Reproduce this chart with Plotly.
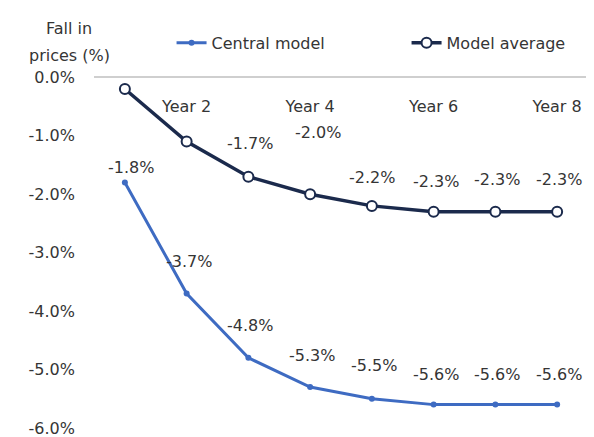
import plotly.graph_objects as go

years = ["Year 1", "Year 2", "Year 3", "Year 4", "Year 5", "Year 6", "Year 7", "Year 8"]
central_model = [-1.8, -3.7, -4.8, -5.3, -5.5, -5.6, -5.6, -5.6]
model_average = [-0.2, -1.1, -1.7, -2.0, -2.2, -2.3, -2.3, -2.3]
central_labels = ["-1.8%", "-3.7%", "-4.8%", "-5.3%", "-5.5%", "-5.6%", "-5.6%", "-5.6%"]
average_labels = ["", "", "-1.7%", "-2.0%", "-2.2%", "-2.3%", "-2.3%", "-2.3%"]
y_ticks = [0, -1, -2, -3, -4, -5, -6]
y_tick_text = ["0.0%", "-1.0%", "-2.0%", "-3.0%", "-4.0%", "-5.0%", "-6.0%"]
x_tick_years = ["Year 2", "Year 4", "Year 6", "Year 8"]

BLUE = "#3e6bc2"
NAVY = "#1b2a4c"
TXT = "#353535"
FONT = "DejaVu Sans"
FS = 16

fig = go.Figure()
fig.add_trace(go.Scatter(
    x=years, y=central_model, name="Central model", mode="lines+markers",
    line=dict(color=BLUE, width=3), marker=dict(size=6, color=BLUE),
))
fig.add_trace(go.Scatter(
    x=years, y=model_average, name="Model average", mode="lines+markers",
    line=dict(color=NAVY, width=3.5),
    marker=dict(size=10, color="white", line=dict(color=NAVY, width=2)),
))

# data labels (offsets are styling)
c_shift = [(6, 15), (2, 32), (2, 32), (2, 32), (2, 33), (2, 30), (2, 30), (2, 30)]
for i, (yr, v, t) in enumerate(zip(years, central_model, central_labels)):
    dx, dy = c_shift[i]
    fig.add_annotation(x=yr, y=v, text=t, showarrow=False, xshift=dx, yshift=dy,
                       font=dict(family=FONT, size=FS, color=TXT))
a_shift = [(0, 0), (0, 0), (2, 33), (8, 62), (0, 28), (2, 30), (2, 32), (2, 32)]
for i, (yr, v, t) in enumerate(zip(years, model_average, average_labels)):
    if not t:
        continue
    dx, dy = a_shift[i]
    fig.add_annotation(x=yr, y=v, text=t, showarrow=False, xshift=dx, yshift=dy,
                       font=dict(family=FONT, size=FS, color=TXT))

# axis title, two lines
for line, dy in (("Fall in", 49), ("prices (%)", 22)):
    fig.add_annotation(xref="paper", yref="paper", x=-0.05, y=1.0, yshift=dy,
                       xanchor="center", yanchor="middle", showarrow=False,
                       text=line, font=dict(family=FONT, size=FS, color=TXT))

fig.update_layout(
    width=594, height=437,
    margin=dict(l=86, r=14, t=69, b=17, autoexpand=False),
    paper_bgcolor="white", plot_bgcolor="white",
    font=dict(family=FONT, size=FS, color=TXT),
    showlegend=True,
    legend=dict(orientation="h", x=0.157, y=1.097, yanchor="middle", yref="paper",
                xanchor="left", font=dict(family=FONT, size=FS, color=TXT),
                bgcolor="rgba(0,0,0,0)", entrywidth=190,
                tracegroupgap=0),
    xaxis=dict(type="category", categoryorder="array", categoryarray=years,
               range=[-0.5, 7.5], anchor="free", position=1, side="bottom",
               tickvals=x_tick_years, ticktext=x_tick_years, ticks="",
               showline=True, linecolor="#cfcfcf", linewidth=1.5,
               showgrid=False, zeroline=False, ticklabelstandoff=15,
               automargin=False,
               tickfont=dict(family=FONT, size=FS, color=TXT)),
    yaxis=dict(range=[-6, 0.005], tickvals=y_ticks, ticktext=y_tick_text,
               showgrid=False, zeroline=False, showline=False, ticks="",
               ticklabelstandoff=18, automargin=False,
               tickfont=dict(family=FONT, size=FS, color=TXT)),
)

fig.write_html("out.html")
